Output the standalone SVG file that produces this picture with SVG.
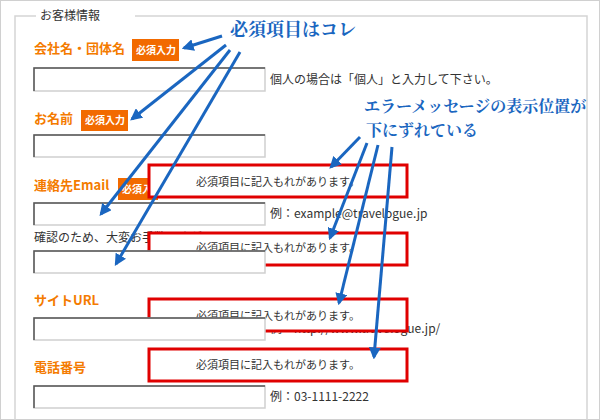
<svg xmlns="http://www.w3.org/2000/svg" width="600" height="420" viewBox="0 0 600 420">
<defs>
<style>
.lbl{font-family:"Noto Sans CJK JP","Liberation Sans",sans-serif;font-size:13px;font-weight:bold;fill:#f47b00}
.txt{font-family:"Noto Sans CJK JP","Liberation Sans",sans-serif;font-size:12px;fill:#333}
.badge rect{fill:#f26a00}
.badge text{font-family:"Noto Sans CJK JP",sans-serif;font-size:10px;font-weight:bold;fill:#fff}
.inp{fill:#fff;stroke:#cfcfcf;stroke-width:1.5}
.inpd{fill:none;stroke:#555;stroke-width:1.5}
.err rect{fill:#fff;stroke:#e00000;stroke-width:3}
.err text{font-family:"Noto Sans CJK JP",sans-serif;font-size:11px;fill:#333;text-anchor:middle}
.ann{font-family:"Noto Serif CJK JP","Noto Sans CJK JP",serif;font-weight:bold;fill:#1a66c0}
.arr{stroke:#1a66c0;stroke-width:3;fill:none;marker-end:url(#ah)}
</style>
<marker id="ah" viewBox="0 0 10 10" refX="8" refY="5" markerWidth="4" markerHeight="4" orient="auto" markerUnits="strokeWidth"><path d="M0,0 L10,5 L0,10 z" fill="#1a66c0"/></marker>
</defs>
<rect x="0.5" y="0.5" width="599" height="419" fill="#fff" stroke="#d0d0d0"/>
<path d="M36,16 H15 V425 M135,16 H587 V425" fill="none" stroke="#d5d5d5" stroke-width="1.5"/>
<text x="40" y="20" class="txt">お客様情報</text>

<g id="company">
<text x="34" y="53" class="lbl">会社名・団体名</text>
<g class="badge"><rect x="132" y="39" width="47" height="22"/><text x="136" y="54">必須入力</text></g>
<rect x="34" y="68" width="231" height="23" class="inp"/><path d="M34,91 V68 H265" class="inpd"/>
<text x="270" y="84" class="txt">個人の場合は「個人」と入力して下さい。</text>
</g>
<g id="name">
<text x="34" y="123" class="lbl">お名前</text>
<g class="badge"><rect x="81" y="110" width="47" height="21"/><text x="85" y="124">必須入力</text></g>
<rect x="34" y="135" width="231" height="22" class="inp"/><path d="M34,157 V135 H265" class="inpd"/>
</g>
<g id="email">
<text x="34" y="190" class="lbl">連絡先Email</text>
<g class="badge"><rect x="118" y="178" width="40" height="22"/><text x="122" y="193">必須入力</text></g>
<rect x="34" y="203" width="231" height="22" class="inp"/><path d="M34,225 V203 H265" class="inpd"/>
<text x="270" y="218" class="txt">例：example@travelogue.jp</text>
<text x="34" y="242" class="txt">確認のため、大変お手数ですが</text>
</g>
<g id="err1" class="err"><rect x="149" y="165" width="258" height="32"/><text x="278" y="186">必須項目に記入もれがあります。</text></g>
<g id="err2" class="err"><rect x="149" y="233" width="258" height="32"/><text x="278" y="252">必須項目に記入もれがあります。</text></g>
<g id="confirm">
<rect x="34" y="251" width="231" height="22" class="inp"/><path d="M34,273 V251 H265" class="inpd"/>
</g>
<g id="url">
<text x="34" y="305" class="lbl">サイトURL</text>
<text x="270" y="333" class="txt">例：http://www.travelogue.jp/</text>
</g>
<g id="err3" class="err"><rect x="149" y="299" width="258" height="32"/><text x="278" y="320">必須項目に記入もれがあります。</text></g>
<g id="urlinput">
<rect x="34" y="318" width="231" height="22" class="inp"/><path d="M34,340 V318 H265" class="inpd"/>
</g>
<g id="err4" class="err"><rect x="149" y="349" width="258" height="32"/><text x="278" y="369">必須項目に記入もれがあります。</text></g>
<g id="tel">
<text x="34" y="372" class="lbl">電話番号</text>
<rect x="34" y="386" width="231" height="22" class="inp"/><path d="M34,408 V386 H265" class="inpd"/>
<text x="270" y="401" class="txt">例：03-1111-2222</text>
</g>

<g id="note1"><text x="230" y="36" class="ann" font-size="18">必須項目はコレ</text></g>
<g id="note2"><text x="364" y="112" class="ann" font-size="16">エラーメッセージの表示位置が</text><text x="366" y="136" class="ann" font-size="16">下にずれている</text></g>
<g id="connectors">
<path d="M222,36 L184,48" class="arr"/>
<path d="M226,45 L132,119" class="arr"/>
<path d="M230,50 L101,214" class="arr"/>
<path d="M240,52 L116,264" class="arr"/>
<path d="M360,137 L331,167" class="arr"/>
<path d="M367,143 L330,238" class="arr"/>
<path d="M378,145 L339,303" class="arr"/>
<path d="M392,147 L374,357" class="arr"/>
</g>
</svg>
